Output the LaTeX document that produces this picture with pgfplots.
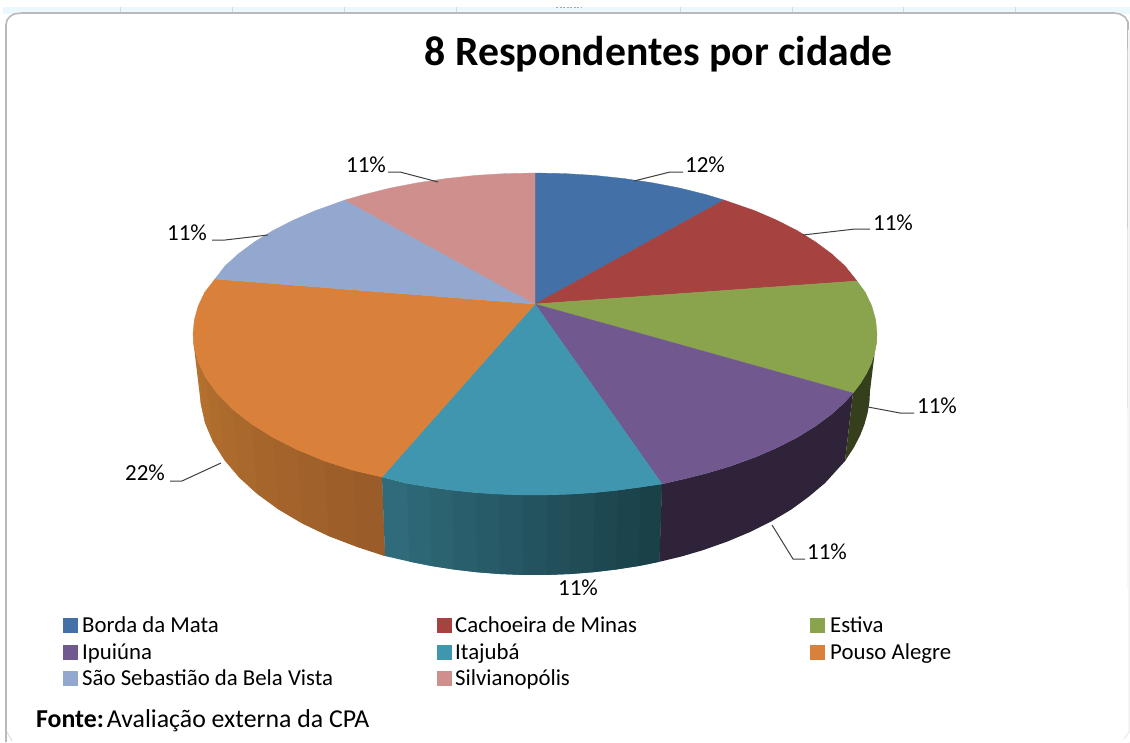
\documentclass[border=0pt]{standalone}
\usepackage{pgfplots}
\pgfplotsset{compat=1.18}
\usepackage{fontspec}
\setmainfont{Carlito}
\definecolor{cblue}{HTML}{4270A7}
\definecolor{cred}{HTML}{A64340}
\definecolor{cgreen}{HTML}{8AA44E}
\definecolor{cpurple}{HTML}{71588F}
\definecolor{cteal}{HTML}{3F96AE}
\definecolor{corange}{HTML}{D9803A}
\definecolor{clight}{HTML}{93A8CF}
\definecolor{cpink}{HTML}{CE8F8D}
\definecolor{sgreen}{HTML}{363F1C}
\definecolor{spurple}{HTML}{2E2338}
\definecolor{tealL}{HTML}{2F6B7B}
\definecolor{tealR}{HTML}{1A4048}
\definecolor{orL}{HTML}{B8742F}
\definecolor{orR}{HTML}{9A5C29}
\newcommand{\Q}[2]{\addplot[fill=#1,draw=none] coordinates {#2} --cycle;}
\newcommand{\W}[2]{\addplot[fill=#1,draw=#1,line width=.3pt] coordinates {(535,304) #2} --cycle;}
\newcommand{\LD}[1]{\addplot[draw=black!75,line width=1pt] coordinates {#1};}
\newcommand{\LB}[3]{\node[anchor=base,font=\fontsize{23}{26}\selectfont] at (axis cs:#1,#2) {#3};}
\begin{document}
\begin{tikzpicture}
\begin{axis}[scale only axis,width=1130pt,height=742pt,xmin=0,xmax=1130,ymin=0,ymax=742,y dir=reverse,hide axis,clip=true]
% window frame
\addplot[fill=cyan!8,draw=none] coordinates {(3,7)(1130,7)(1130,14)(3,14)} --cycle;
\addplot[fill=white,draw=none] coordinates {(0,0)(1130,0)(1130,7)(0,7)} --cycle;
\addplot[draw=gray!30,line width=.8pt] coordinates {(120,7)(120,13)};
\addplot[draw=gray!30,line width=.8pt] coordinates {(232,7)(232,13)};
\addplot[draw=gray!30,line width=.8pt] coordinates {(344,7)(344,13)};
\addplot[draw=gray!30,line width=.8pt] coordinates {(456,7)(456,13)};
\addplot[draw=gray!30,line width=.8pt] coordinates {(680,7)(680,13)};
\addplot[draw=gray!30,line width=.8pt] coordinates {(792,7)(792,13)};
\addplot[draw=gray!30,line width=.8pt] coordinates {(903,7)(903,13)};
\addplot[draw=gray!30,line width=.8pt] coordinates {(1015,7)(1015,13)};
\addplot[draw=gray!70,line width=1pt,dash pattern=on 2pt off 1.5pt] coordinates {(556,7)(581,7)};
\addplot[fill=white,draw=gray!55,line width=1.6pt] coordinates {(6,742)(6,25)(7,20)(10,16.5)(14,14)(22,13)(1114,13)(1120,14)(1125,17)(1128,22)(1129,742)};
\addplot[draw=white,line width=2pt] coordinates {(1129,30)(1129,742)};
\addplot[draw=gray!18,line width=1pt] coordinates {(1129,30)(1129,732)(1124,739)};
\addplot[draw=gray!25,line width=1pt] coordinates {(7,732)(12,741)};
% side of the orange slice, left to right
\Q{orL}{(193,334)(193.8,345.2)(198.2,362)(205.1,423)(200.8,403.8)(200,391)}
\Q{orR!10!orL}{(193.8,345.2)(198.2,362)(206.2,378.4)(213,441.7)(205.1,423)(200.8,403.8)}
\Q{orR!20!orL}{(198.2,362)(206.2,378.4)(218,394.3)(224.4,459.9)(213,441.7)(205.1,423)}
\Q{orR!30!orL}{(206.2,378.4)(218,394.3)(233,409.6)(239.2,477.4)(224.4,459.9)(213,441.7)}
\Q{orR!40!orL}{(218,394.3)(233,409.6)(251.5,424)(257.3,493.9)(239.2,477.4)(224.4,459.9)}
\Q{orR!50!orL}{(233,409.6)(251.5,424)(273,437.5)(278.4,509.3)(257.3,493.9)(239.2,477.4)}
\Q{orR!60!orL}{(251.5,424)(273,437.5)(297.4,449.8)(302.3,523.4)(278.4,509.3)(257.3,493.9)}
\Q{orR!70!orL}{(273,437.5)(297.4,449.8)(324.4,460.9)(328.7,536)(302.3,523.4)(278.4,509.3)}
\Q{orR!80!orL}{(297.4,449.8)(324.4,460.9)(353.8,470.5)(357.5,547)(328.7,536)(302.3,523.4)}
\Q{orR!90!orL}{(324.4,460.9)(353.8,470.5)(382,477)(385,556)(357.5,547)(328.7,536)}
\Q{orR}{(353.8,470.5)(382,477)(385,556)(357.5,547)}
% side of the teal slice
\Q{tealL}{(382,477)(406.9,483.3)(429.3,487.1)(431.5,566)(409.5,561.6)(385,556)}
\Q{tealR!10!tealL}{(406.9,483.3)(429.3,487.1)(452.3,490.2)(454,569.5)(431.5,566)(409.5,561.6)}
\Q{tealR!19!tealL}{(429.3,487.1)(452.3,490.2)(475.6,492.6)(476.8,572.2)(454,569.5)(431.5,566)}
\Q{tealR!28!tealL}{(452.3,490.2)(475.6,492.6)(499.3,494.1)(500,574)(476.8,572.2)(454,569.5)}
\Q{tealR!37!tealL}{(475.6,492.6)(499.3,494.1)(523.1,494.9)(523.3,574.9)(500,574)(476.8,572.2)}
\Q{tealR!46!tealL}{(499.3,494.1)(523.1,494.9)(546.9,494.9)(546.7,574.9)(523.3,574.9)(500,574)}
\Q{tealR!55!tealL}{(523.1,494.9)(546.9,494.9)(570.7,494.1)(570,574)(546.7,574.9)(523.3,574.9)}
\Q{tealR!64!tealL}{(546.9,494.9)(570.7,494.1)(594.4,492.6)(593.2,572.2)(570,574)(546.7,574.9)}
\Q{tealR!73!tealL}{(570.7,494.1)(594.4,492.6)(617.7,490.2)(616,569.5)(593.2,572.2)(570,574)}
\Q{tealR!82!tealL}{(594.4,492.6)(617.7,490.2)(640.7,487.1)(638.5,566)(616,569.5)(593.2,572.2)}
\Q{tealR!91!tealL}{(617.7,490.2)(640.7,487.1)(662,484)(659.4,561.8)(638.5,566)(616,569.5)}
\Q{tealR}{(640.7,487.1)(662,484)(659.4,561.8)(638.5,566)}
% sides of purple and green
\Q{spurple}{(662,484)(684.9,478.7)(706,473.4)(731.2,465.9)(754.8,457.3)(776.8,447.8)(797,437.5)(815.2,426.3)(831.2,414.5)(845,402)(853,393)(845,461)(825.1,483)(808.6,496.8)(791.6,509.3)(771.7,521.2)(750.3,531.9)(727.2,541.6)(702.5,550.3)(681.8,556.4)(659.4,561.8)}
\Q{sgreen}{(853,393)(860.2,383.7)(866.8,372.9)(871.3,363.3)(874.4,353.6)(876.3,343.8)(877,334)(870,391)(869.4,402.2)(867.5,413.4)(864.4,424.5)(860.1,435.5)(853.6,448)(845,461)}
% tops
\W{cblue}{(535,173)(564.8,173.6)(594.4,175.4)(623.5,178.5)(652,182.7)(679.5,188)(706,194.6)(724,200)}
\W{cred}{(724,200)(754.8,210.7)(776.8,220.2)(797,230.5)(815.2,241.7)(831.2,253.5)(845,266)(857,281)}
\W{cgreen}{(857,281)(865.3,292.3)(871.8,306)(875.7,320)(877,334)(876.3,343.8)(874.4,353.6)(871.3,363.3)(866.8,372.9)(860.2,383.7)(853,393)}
\W{cpurple}{(853,393)(845,402)(831.2,414.5)(815.2,426.3)(797,437.5)(776.8,447.8)(754.8,457.3)(731.2,465.9)(706,473.4)(684.9,478.7)(662,484)}
\W{cteal}{(662,484)(640.7,487.1)(617.7,490.2)(594.4,492.6)(570.7,494.1)(546.9,494.9)(523.1,494.9)(499.3,494.1)(475.6,492.6)(452.3,490.2)(429.3,487.1)(406.9,483.3)(382,477)}
\W{corange}{(382,477)(353.8,470.5)(324.4,460.9)(297.4,449.8)(273,437.5)(251.5,424)(233,409.6)(218,394.3)(206.2,378.4)(198.2,362)(193.8,345.2)(193,334)(194.3,320)(198.2,306)(204.7,292.3)(215,279)}
\W{clight}{(215,279)(225,266)(238.8,253.5)(254.8,241.7)(273,230.5)(293.2,220.2)(315.2,210.7)(345,200)}
\W{cpink}{(345,200)(364,194.6)(390.5,188)(418,182.7)(446.5,178.5)(475.6,175.4)(505.2,173.6)(535,173)}
% leaders
\LD{(634,181)(670,172)(683,172)}
\LD{(803,235)(855,229)(870,229)}
\LD{(868,407)(900,413)(914,413)}
\LD{(772,525)(793,559)(805,559)}
\LD{(170,481)(182,481)(221,463)}
\LD{(212,240)(225,240)(268,235)}
\LD{(388,172)(400,172)(438,182)}
% labels
\LB{705}{172}{12\%}
\LB{893}{230}{11\%}
\LB{937}{413}{11\%}
\LB{827}{559}{11\%}
\LB{578}{595}{11\%}
\LB{145}{480}{22\%}
\LB{187}{240}{11\%}
\LB{366}{172}{11\%}
\node[anchor=base,font=\fontsize{41.7}{46}\selectfont\bfseries] at (axis cs:658.5,65) {8 Respondentes por cidade};
% legend
\addplot[only marks,mark=square*,mark size=6.8pt,color=cblue] coordinates {(70,625)};
\addplot[only marks,mark=square*,mark size=6.8pt,color=cred] coordinates {(444,625)};
\addplot[only marks,mark=square*,mark size=6.8pt,color=cgreen] coordinates {(817,625)};
\addplot[only marks,mark=square*,mark size=6.8pt,color=cpurple] coordinates {(70,652)};
\addplot[only marks,mark=square*,mark size=6.8pt,color=cteal] coordinates {(444,652)};
\addplot[only marks,mark=square*,mark size=6.8pt,color=corange] coordinates {(817,652)};
\addplot[only marks,mark=square*,mark size=6.8pt,color=clight] coordinates {(70,678)};
\addplot[only marks,mark=square*,mark size=6.8pt,color=cpink] coordinates {(444,678)};
\begin{scope}[every node/.style={anchor=base west,inner sep=0pt,font=\fontsize{22.8}{26}\selectfont}]
\node at (axis cs:82,632) {Borda da Mata};
\node at (axis cs:455,632) {Cachoeira de Minas};
\node at (axis cs:830,632) {Estiva};
\node at (axis cs:82,659) {Ipuiúna};
\node at (axis cs:455,659) {Itajubá};
\node at (axis cs:830,659) {Pouso Alegre};
\node at (axis cs:82,685) {São Sebastião da Bela Vista};
\node at (axis cs:455,685) {Silvianopólis};
\node[font=\fontsize{25.8}{29}\selectfont] at (axis cs:36,727) {\textbf{Fonte:}\hspace{3pt}Avaliação externa da CPA};
\end{scope}
\end{axis}
\end{tikzpicture}
\end{document}
